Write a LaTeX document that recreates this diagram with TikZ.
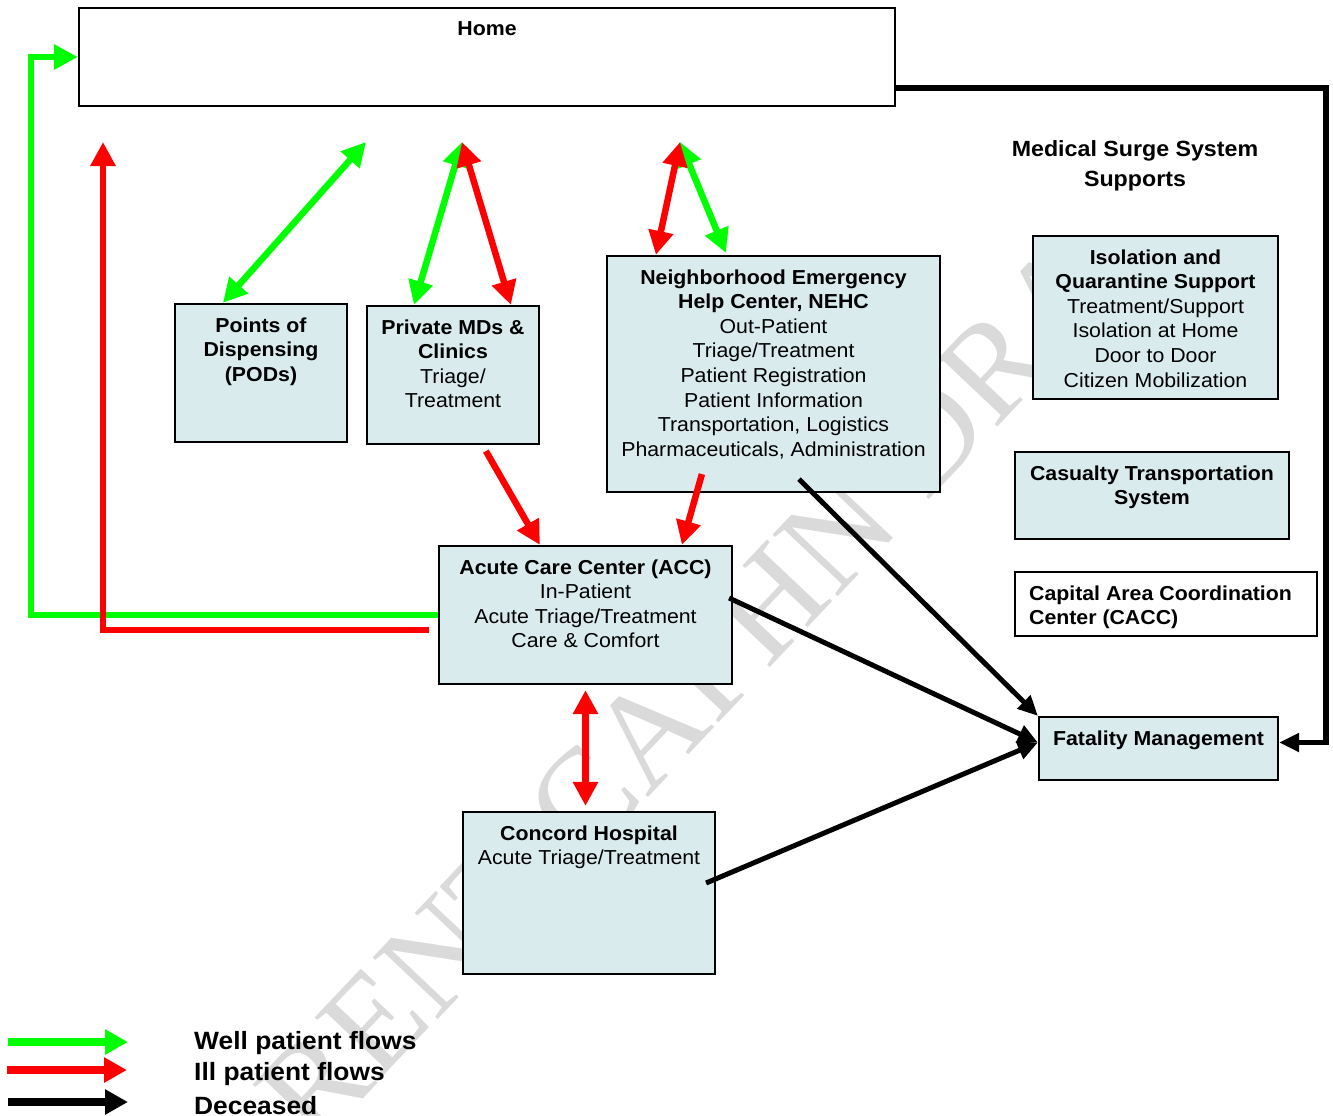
\documentclass[tikz,border=0pt]{standalone}
\usepackage{fontspec}
\setmainfont{Liberation Sans}[FakeStretch=1.055]
\newfontfamily\wmfont{Liberation Serif}
\usetikzlibrary{arrows.meta}

\definecolor{boxfill}{RGB}{218,235,238}
\definecolor{wellg}{RGB}{0,255,0}
\definecolor{illr}{RGB}{255,0,0}
\definecolor{wmgray}{RGB}{218,218,218}

\newcommand{\mainsz}{\fontsize{20.2}{24.6}\selectfont}

\tikzset{
  ctip/.tip={Triangle[length=24pt,width=24pt]},
  ktip/.tip={Triangle[length=20pt,width=18pt]},
  ltip/.tip={Triangle[length=23pt,width=24pt]}
}

\begin{document}
\begin{tikzpicture}[x=1pt,y=-1pt,
  box/.style={draw=black, line width=2.2pt, fill=boxfill, inner sep=0pt},
  wbox/.style={box, fill=white},
  lbl/.style={font=\mainsz, align=center, anchor=north, inner sep=0pt},
  well/.style={draw=wellg, line width=6.5pt},
  ill/.style={draw=illr, line width=6.5pt},
  dead/.style={draw=black, line width=5pt},
  wm/.style={font=\wmfont\fontsize{137}{137}\selectfont, text=wmgray, inner sep=0pt, rotate=46.6}
]
\useasboundingbox (0,0) rectangle (1333,1116);

% background stamp
\node[wm] (stamp) at (688,690) {RENT CAPHN DRA};

% boxes
\node[wbox, minimum width=816pt, minimum height=98pt] (home) at (487,57) {};
\node[box, minimum width=172pt, minimum height=138pt] (pods) at (261,373) {};
\node[box, minimum width=172pt, minimum height=138pt] (mds) at (453,375) {};
\node[box, minimum width=333pt, minimum height=236pt] (nehc) at (773.5,374) {};
\node[box, minimum width=245pt, minimum height=163pt] (iso) at (1155.5,317.5) {};
\node[box, minimum width=274pt, minimum height=87pt] (cas) at (1152,495.5) {};
\node[wbox, minimum width=302pt, minimum height=64pt] (cacc) at (1166,604) {};
\node[box, minimum width=239pt, minimum height=63pt] (fat) at (1158.5,748.5) {};
\node[box, minimum width=293pt, minimum height=138pt] (acc) at (585.5,615) {};
\node[box, minimum width=252pt, minimum height=162pt] (conc) at (589,893) {};

% box texts
\node[lbl] (homeT) at ([yshift=-14.3pt]home.north) {\textbf{Home}};
\node[lbl] (podsT) at ([yshift=-14.3pt]pods.north) {\textbf{Points of}\\\textbf{Dispensing}\\\textbf{(PODs)}};
\node[lbl] (mdsT) at ([yshift=-14.3pt]mds.north) {\textbf{Private MDs \&}\\\textbf{Clinics}\\Triage/\\Treatment};
\node[lbl] (nehcT) at ([yshift=-14.3pt]nehc.north) {\textbf{Neighborhood Emergency}\\\textbf{Help Center, NEHC}\\Out-Patient\\Triage/Treatment\\Patient Registration\\Patient Information\\Transportation, Logistics\\Pharmaceuticals, Administration};
\node[lbl] (isoT) at ([yshift=-14.3pt]iso.north) {\textbf{Isolation and}\\\textbf{Quarantine Support}\\Treatment/Support\\Isolation at Home\\Door to Door\\Citizen Mobilization};
\node[lbl] (casT) at ([yshift=-14.3pt]cas.north) {\textbf{Casualty Transportation}\\\textbf{System}};
\node[lbl, anchor=north west, align=left] (caccT) at ([xshift=15pt,yshift=-14.3pt]cacc.north west) {\textbf{Capital Area Coordination}\\\textbf{Center (CACC)}};
\node[lbl] (fatT) at ([yshift=-14.3pt]fat.north) {\textbf{Fatality Management}};
\node[lbl] (accT) at ([yshift=-14.3pt]acc.north) {\textbf{Acute Care Center (ACC)}\\In-Patient\\Acute Triage/Treatment\\Care \& Comfort};
\node[lbl] (concT) at ([yshift=-14.3pt]conc.north) {\textbf{Concord Hospital}\\Acute Triage/Treatment};
\node[lbl, font=\fontsize{22}{30}\selectfont\bfseries] (mss) at (1135,140) {Medical Surge System\\Supports};

% free ends of the flows
\coordinate (gcorner) at (31,57);
\coordinate (rtop) at (103,142);
\coordinate (podsUp) at (366,142);
\coordinate (mdsUp) at (462,142);
\coordinate (nehcUp) at (680,142);
\coordinate (bcorner) at (1326,88);

% well patient flows
\draw[well, -{ctip}] (acc.west) -| (gcorner) -- (home.west);
\draw[well, {ctip}-{ctip}] (podsUp) -- ([xshift=49pt]pods.north west);
\draw[well, {ctip}-{ctip}] (mdsUp) -- ([xshift=48pt]mds.north west);
\draw[well, {ctip}-{ctip}] (nehcUp) -- ([xshift=120pt,yshift=2pt]nehc.north west);

% ill patient flows
\draw[ill, -{ctip}] ([shift={(-9,15)}]acc.west) -| (rtop);
\draw[ill, {ctip}-{ctip}] (mdsUp) -- ([xshift=145pt]mds.north west);
\draw[ill, {ctip}-{ctip}] (nehcUp) -- ([xshift=50pt]nehc.north west);
\draw[ill, -{ctip}] ([xshift=120pt,yshift=-6pt]mds.south west) -- ([xshift=102pt]acc.north west);
\draw[ill, -{ctip}] ([xshift=96pt,yshift=19pt]nehc.south west) -- ([xshift=244pt]acc.north west);
\draw[ill, {ctip}-{ctip}] ([yshift=-5pt]acc.south) -- ([yshift=5pt]acc.south |- conc.north);

% deceased
\draw[dead, -{ktip}] ([xshift=193pt,yshift=14pt]nehc.south west) -- (fat.north west);
\draw[dead, -{ktip}] ([shift={(-4,-17)}]acc.east) -- ([yshift=6pt]fat.west);
\draw[dead, -{ktip}] ([shift={(-10,-10)}]conc.east) -- ([yshift=6pt]fat.west);
\draw[dead, -{ktip}, line width=5.5pt] ([yshift=-31pt]home.east) -- (bcorner) |- ([yshift=6pt]fat.east);

% legend
\coordinate (lgA1) at (8,1042);   \coordinate (lgA2) at (128,1042);
\coordinate (lgB1) at (7,1070);   \coordinate (lgB2) at (127,1070);
\coordinate (lgC1) at (8,1102);   \coordinate (lgC2) at (128,1102);
\draw[well, line width=8pt, -{ltip}] (lgA1) -- (lgA2);
\draw[ill, line width=8pt, -{ltip}] (lgB1) -- (lgB2);
\draw[dead, line width=8pt, -{ltip}] (lgC1) -- (lgC2);
\node[anchor=west, inner sep=0pt, font=\fontsize{25}{31}\selectfont\bfseries] (lgA) at (194,1043.5) {Well patient flows};
\node[anchor=west, inner sep=0pt, font=\fontsize{25}{31}\selectfont\bfseries] (lgB) at (194,1074.5) {Ill patient flows};
\node[anchor=west, inner sep=0pt, font=\fontsize{25}{31}\selectfont\bfseries] (lgC) at (194,1105.5) {Deceased};
\end{tikzpicture}
\end{document}
